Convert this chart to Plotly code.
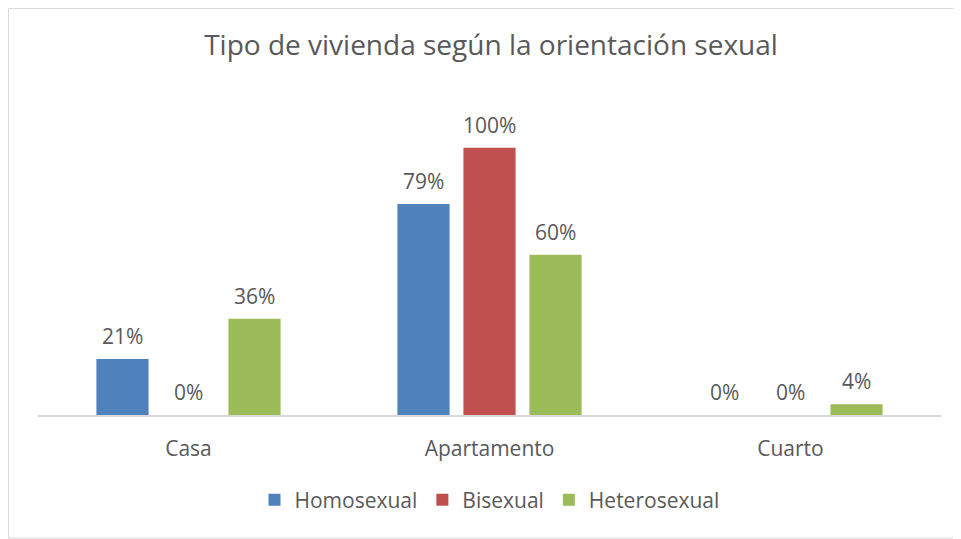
import plotly.graph_objects as go

categories = ["Casa", "Apartamento", "Cuarto"]
homosexual = [0.21, 0.79, 0.0]
bisexual = [0.0, 1.0, 0.0]
heterosexual = [0.36, 0.60, 0.04]
series_names = ["Homosexual", "Bisexual", "Heterosexual"]
colors = ["#4F81BD", "#C0504D", "#9BBB59"]

FONT = "Open Sans"
TXT = "#595959"

# page body has an 8px margin, so the figure is laid out 8px smaller
W, H = 953, 531
L, R, T, B = 30, 20, 73, 124
pw, ph = W - L - R, H - T - B
BARGAP, GROUPGAP = 0.342, 0.21
n = len(series_names)
slot = pw / len(categories) * (1 - BARGAP) / n

fig = go.Figure()
annotations = []
for i, (name, vals, col) in enumerate(zip(series_names, [homosexual, bisexual, heterosexual], colors)):
    fig.add_trace(go.Bar(
        x=categories, y=vals, name=name,
        marker=dict(color=col, line=dict(width=0)),
    ))
    for c, v in zip(categories, vals):
        annotations.append(dict(
            x=c, y=v, xref="x", yref="y", text=f"{round(v*100)}%",
            showarrow=False, xshift=(i - (n - 1) / 2) * slot, yshift=23,
            yanchor="middle", xanchor="center",
            font=dict(family=FONT, size=21, color=TXT),
        ))

fig.update_layout(
    width=W, height=H,
    margin=dict(l=L, r=R, t=T, b=B),
    paper_bgcolor="white", plot_bgcolor="white",
    barmode="group", bargap=BARGAP, bargroupgap=GROUPGAP,
    title=dict(text="Tipo de vivienda según la orientación sexual",
               xref="paper", x=0.5017, xanchor="center", y=1 - 37 / H, yanchor="middle",
               font=dict(family=FONT, size=28, color=TXT)),
    xaxis=dict(showline=True, linecolor="#D9D9D9", linewidth=1.5,
               ticks="", showgrid=False, ticklabelstandoff=14,
               tickfont=dict(family=FONT, size=21, color=TXT)),
    yaxis=dict(range=[0, 1.25], visible=False, showgrid=False, zeroline=False),
    showlegend=True,
    legend=dict(orientation="h", x=0.5, xanchor="center",
                y=(407 - 492) / ph, yanchor="middle",
                font=dict(family=FONT, size=21, color=TXT),
                itemwidth=30, traceorder="normal"),
    annotations=annotations,
    shapes=[dict(type="rect", xref="paper", yref="paper",
                 x0=(0.5 - L) / pw, x1=(965 - L) / pw,
                 y0=(407 - 530) / ph, y1=(407 - 0.5) / ph,
                 line=dict(color="#D9D9D9", width=1), fillcolor="rgba(0,0,0,0)",
                 layer="below")],
)

fig.write_html("out.html")
